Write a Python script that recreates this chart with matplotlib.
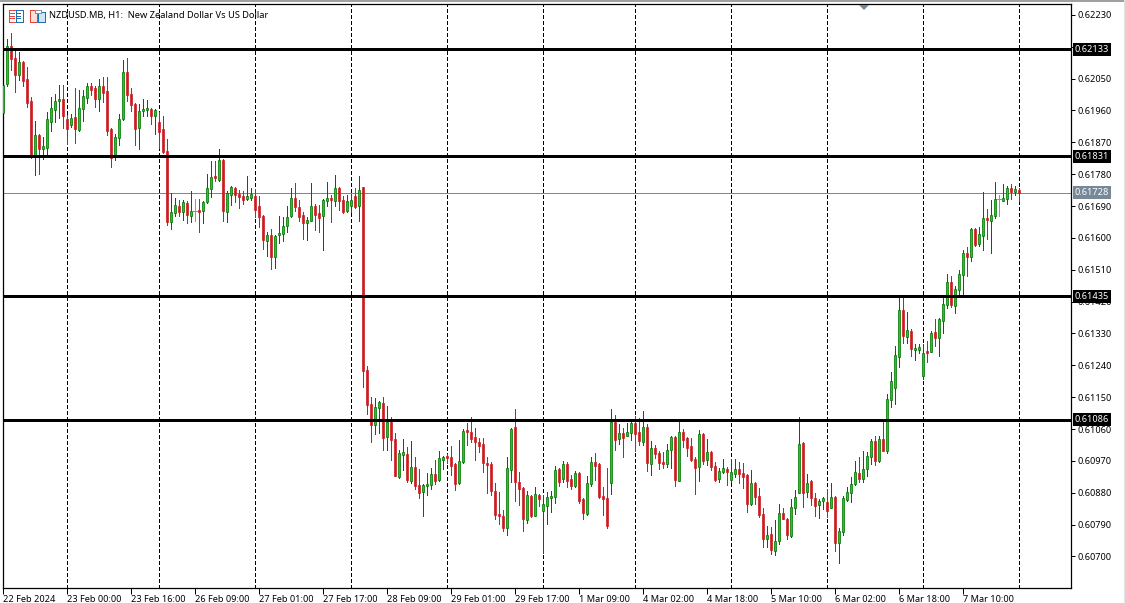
import matplotlib
matplotlib.use("Agg")
import matplotlib.pyplot as plt
from matplotlib.patches import Rectangle
import numpy as np

# hourly candles, price in points (1e-5)
opens = [61953,62034,62143,62109,62061,62098,62050,61988,61831,61891,61852,61855,61928,61962,61988,61993,
         61937,61920,61942,61906,61965,61996,62030,62024,61993,62030,62016,61908,61831,61883,61937,62070,
         62007,61979,61911,61959,61962,61965,61945,61928,61908,61846,61646,61671,61691,61674,61699,61663,
         61677,61680,61677,61702,61739,61776,61764,61821,61674,61722,61742,61725,61719,61711,61714,61717,
         61691,61663,61590,61607,61545,61607,61610,61635,61663,61714,61686,61666,61641,61649,61689,61669,
         61663,61703,61714,61703,61742,61706,61675,61689,61717,61689,61745,61228,61132,61072,61120,61134,
         61038,61081,61033,60925,60988,60990,60914,60954,60903,60883,60900,60903,60934,60917,60973,60985,
         60982,60962,60908,60968,61058,61053,61038,61024,61019,60965,60962,60886,60821,60815,60781,60945,
         61067,60911,60894,60804,60872,60815,60874,60829,60843,60866,60869,60948,60920,60962,60920,60900,
         60937,60863,60821,60906,60968,60962,60872,60866,60907,61081,61033,61050,61041,61050,61078,61053,
         61024,61067,60962,61007,60993,60968,60962,61002,61038,60914,61053,61036,61013,60976,60954,61047,
         60973,60996,60956,60920,60940,60948,60917,60934,60948,60937,60931,60849,60908,60872,60821,60750,
         60764,60716,60745,60824,60807,60759,60838,60880,61021,60883,60914,60866,60846,60858,60855,60838,
         60869,60739,60770,60860,60880,60906,60937,60920,60948,60982,61027,60971,61033,60999,61143,61177,
         61263,61397,61321,61338,61284,61284,61211,61281,61279,61335,61318,61366,61411,61476,61409,61454,
         61496,61556,61547,61626,61584,61606,61657,61649,61663,61711,61705,61711,61742,61731,61736]
highs = [62036,62163,62180,62132,62126,62101,62084,61999,61931,61894,61886,61956,61999,62007,62033,62033,
         61948,61951,62024,62019,62019,62038,62038,62030,62050,62055,62055,61911,61894,61951,62103,62109,
         62024,61982,61979,61993,61990,61968,61965,61956,61945,61880,61728,61713,61708,61708,61705,61733,
         61711,61711,61705,61781,61818,61818,61852,61824,61733,61748,61745,61736,61733,61776,61742,61737,
         61717,61666,61618,61626,61607,61663,61658,61691,61740,61754,61708,61672,61658,61754,61697,61694,
         61711,61759,61720,61779,61744,61717,61720,61725,61742,61776,61745,61239,61151,61149,61140,61151,
         61126,61095,61050,61002,61033,61010,61027,60982,60948,60906,60937,60951,60973,60999,60985,60990,
         61013,60965,61030,61061,61078,61095,61064,61036,61036,60982,60968,60908,60883,60832,60982,61063,
         61118,60939,60897,60886,60874,60897,60877,60874,60883,60886,60956,60951,60971,60968,60931,60942,
         60939,60865,60928,60982,60993,60964,60897,60951,61118,61101,61075,61064,61078,61081,61098,61092,
         61112,61075,61027,61016,60999,60996,61019,61040,61040,61081,61061,61038,61036,60982,61058,61050,
         61033,60998,60968,60951,60976,60954,60976,60976,60968,60965,60934,60945,60910,60894,60838,60787,
         60784,60804,60849,60838,60810,60863,60889,61095,61024,60934,60916,60880,60863,60868,60891,60908,
         60871,60781,60872,60897,60925,60971,60982,60999,60996,61033,61039,61041,61087,61160,61222,61296,
         61436,61436,61392,61344,61301,61301,61301,61310,61338,61372,61375,61434,61499,61491,61465,61510,
         61567,61573,61629,61629,61632,61731,61683,61708,61759,61722,61751,61748,61751,61748,61742]
lows = [61951,62030,62073,62013,62047,62030,61971,61826,61778,61781,61824,61835,61903,61928,61940,61911,
        61866,61914,61869,61903,61931,61982,62005,61971,61959,61985,61891,61801,61821,61863,61934,61988,
        61959,61863,61852,61945,61945,61923,61894,61855,61841,61637,61626,61663,61663,61651,61643,61646,
        61648,61617,61643,61699,61716,61761,61761,61648,61646,61694,61702,61685,61696,61708,61708,61660,
        61632,61570,61550,61511,61516,61587,61590,61618,61658,61675,61649,61598,61593,61647,61621,61618,
        61567,61691,61646,61691,61680,61669,61672,61672,61684,61649,61180,61103,61024,61047,61050,61002,
        61002,60973,60926,60923,60945,60911,60908,60891,60866,60815,60874,60891,60906,60914,60948,60965,
        60931,60889,60906,60965,61016,61024,60973,60996,60939,60880,60874,60807,60793,60773,60761,60911,
        60858,60846,60773,60795,60812,60813,60843,60711,60793,60826,60852,60900,60911,60897,60891,60897,
        60852,60807,60818,60900,60917,60866,60818,60781,60877,61002,61019,60982,61039,61030,60999,61016,
        61016,60942,60931,60979,60948,60951,60954,60951,60900,60912,61010,60985,60971,60877,60914,60962,
        60959,60945,60914,60911,60937,60903,60911,60925,60908,60894,60826,60846,60849,60812,60728,60728,
        60708,60705,60736,60805,60750,60756,60821,60878,60841,60869,60846,60815,60810,60835,60812,60836,
        60716,60682,60761,60858,60855,60903,60911,60911,60928,60962,60959,60968,60997,60993,61121,61132,
        61235,61304,61304,61265,61256,61276,61202,61250,61277,61296,61267,61332,61403,61406,61389,61440,
        61440,61493,61536,61578,61578,61567,61598,61558,61655,61663,61704,61697,61711,61720,61705]
closes = [62033,62143,62106,62061,62098,62044,61982,61831,61891,61852,61860,61937,61968,61988,61993,61945,
          61908,61940,61908,61968,62002,62030,62019,61993,62030,62010,61903,61826,61886,61937,62070,62005,
          61976,61908,61959,61965,61968,61945,61962,61900,61843,61646,61674,61694,61674,61702,61665,61677,
          61677,61674,61702,61742,61773,61770,61821,61677,61728,61745,61722,61716,61708,61719,61725,61680,
          61660,61595,61607,61547,61604,61615,61635,61660,61714,61686,61660,61641,61652,61691,61666,61655,
          61706,61714,61706,61742,61703,61672,61703,61706,61686,61734,61225,61129,61072,61123,61137,61036,
          61081,61030,60928,60993,60996,60917,60954,60900,60880,60903,60906,60934,60914,60979,60982,60979,
          60956,60906,60971,61055,61053,61033,61024,61013,60965,60959,60886,60818,60815,60781,60951,61061,
          60911,60891,60807,60874,60815,60877,60863,60849,60869,60872,60945,60911,60962,60914,60900,60937,
          60858,60824,60908,60968,60956,60869,60863,60787,61081,61030,61050,61036,61053,61078,61047,61027,
          61067,60965,61007,60990,60965,60962,61002,61038,60917,61053,61030,61007,60973,60951,61047,60971,
          60996,60954,60917,60942,60951,60940,60940,60948,60934,60925,60849,60908,60869,60818,60750,60761,
          60719,60745,60824,60807,60761,60841,60869,61019,60880,60908,60866,60843,60858,60866,60829,60869,
          60739,60773,60866,60883,60906,60940,60920,60948,60985,61027,60971,61033,60999,61146,61197,61268,
          61395,61324,61341,61287,61290,61293,61276,61276,61330,61318,61372,61414,61476,61411,61457,61499,
          61556,61547,61626,61581,61612,61655,61652,61666,61711,61711,61714,61742,61731,61739,61728]

levels = [62133, 61831, 61435, 61086]
last_price = 61728
price_ticks = [62230, 62140, 62050, 61960, 61870, 61780, 61690, 61600, 61510, 61420,
               61330, 61240, 61150, 61060, 60970, 60880, 60790, 60700]
time_labels = ["22 Feb 2024", "23 Feb 00:00", "23 Feb 16:00", "26 Feb 09:00", "27 Feb 01:00",
               "27 Feb 17:00", "28 Feb 09:00", "29 Feb 01:00", "29 Feb 17:00", "1 Mar 09:00",
               "4 Mar 02:00", "4 Mar 18:00", "5 Mar 10:00", "6 Mar 02:00", "6 Mar 18:00", "7 Mar 10:00"]
time_ticks = list(range(0, 256, 16))[:16]
day_starts = [16, 39, 63, 87, 111, 135, 158, 182, 206, 230, 254]

GREEN_EDGE = "#006a00"
GREEN_FILL = "#00e000"
RED = "#cc1a1e"
SLATE = "#778899"
FONT = "Noto Sans"

W, H = 1125, 603
fig = plt.figure(figsize=(W / 100, H / 100), dpi=100, facecolor="white")
ax = fig.add_axes([2.8 / W, 1 - 587.6 / H, 1068 / W, 584 / H])

o = np.array(opens) / 1e5
h = np.array(highs) / 1e5
l = np.array(lows) / 1e5
c = np.array(closes) / 1e5
x = np.arange(len(o))

for d in day_starts:
    ax.axvline(d, color="black", lw=0.72, dashes=(3, 2.5), zorder=1, antialiased=False)
ax.axhline(last_price / 1e5, color=SLATE, lw=0.72, zorder=1.5)

up = c > o
down = c < o
flat = c == o
ax.vlines(x[up], l[up], h[up], color=GREEN_EDGE, lw=0.55, zorder=2, antialiased=False)
ax.vlines(x[down], l[down], h[down], color=RED, lw=0.55, zorder=2, antialiased=False)
ax.vlines(x[flat], l[flat], h[flat], color="#00ff00", lw=0.55, zorder=2, antialiased=False)
ax.hlines(o[flat], x[flat] - 0.4, x[flat] + 0.4, color="#00ff00", lw=0.55, zorder=2, antialiased=False)
ax.bar(x[up], (c - o)[up], bottom=o[up], width=0.62, color=GREEN_FILL, edgecolor=GREEN_EDGE,
       linewidth=0.5, zorder=3)
ax.bar(x[down], (o - c)[down], bottom=c[down], width=0.62, color=RED, edgecolor=RED,
       linewidth=0.5, zorder=3)

for lv in levels:
    ax.axhline(lv / 1e5, color="black", lw=2.16, zorder=4)

ax.set_xlim(-0.05, 266.95)
ax.set_ylim(0.60612, 0.62262)

ax.yaxis.tick_right()
ax.set_yticks([p / 1e5 for p in price_ticks])
ax.set_yticklabels(["%.5f" % (p / 1e5) for p in price_ticks], fontsize=6.6, family=FONT)
ax.tick_params(axis="y", length=3, width=0.72, pad=1.5, color="black")
ax.set_xticks(time_ticks)
ax.set_xticklabels(time_labels, fontsize=6.6, family=FONT, ha="left")
ax.tick_params(axis="x", length=4, width=0.72, pad=1.5, color="black")
for s in ax.spines.values():
    s.set_linewidth(0.9)

# price tags on the right axis
tag_tr = ax.get_yaxis_transform()
for lv in levels:
    ax.text(1.0036, lv / 1e5, "%.5f" % (lv / 1e5), transform=tag_tr, color="white", fontsize=6.6,
            family=FONT, va="center", ha="left", zorder=6,
            bbox=dict(facecolor="black", edgecolor="none", pad=1.4))
ax.text(1.0036, last_price / 1e5, "%.5f" % (last_price / 1e5), transform=tag_tr, color="white",
        fontsize=6.6, family=FONT, va="center", ha="left", zorder=6,
        bbox=dict(facecolor=SLATE, edgecolor="none", pad=1.4))

fig.text(49 / W, 1 - 15.5 / H, "NZDUSD.MB, H1:  New Zealand Dollar Vs US Dollar", fontsize=6.7,
         family=FONT, va="center", ha="left", color="black")


def px_rect(x0, y0, w, h_, fc, ec="none", lw=0.7):
    fig.add_artist(Rectangle((x0 / W, 1 - (y0 + h_) / H), w / W, h_ / H, transform=fig.transFigure,
                             facecolor=fc, edgecolor=ec, linewidth=lw, antialiased=False))


# window edges
px_rect(0, 0, W, 2, "#a0a0a0")
px_rect(W - 1, 0, 1, H, "#e4e4e4")

# toolbar icons in the chart's corner
px_rect(8.5, 10.5, 7, 11, "white", "#e8443a")
px_rect(15.5, 10.5, 7, 11, "white", "#1f6fb5")
for yy in (13, 15.5, 18):
    px_rect(10, yy, 4.5, 1, "#e8443a")
    px_rect(17, yy, 4, 1, "#1f6fb5")
px_rect(29.5, 10.5, 7, 11, "#fde0d8", "#e8443a")
px_rect(37.5, 12.5, 7, 9, "#cfe6f7", "#1f6fb5")
px_rect(35, 10, 6, 3, "white", "#909090")

# little marker hanging from the top edge
fig.add_artist(plt.Polygon([(859 / W, 1 - 5 / H), (869 / W, 1 - 5 / H), (864 / W, 1 - 10 / H)],
                           transform=fig.transFigure, facecolor=SLATE, edgecolor="none"))

fig.savefig("out.png", dpi=100)
